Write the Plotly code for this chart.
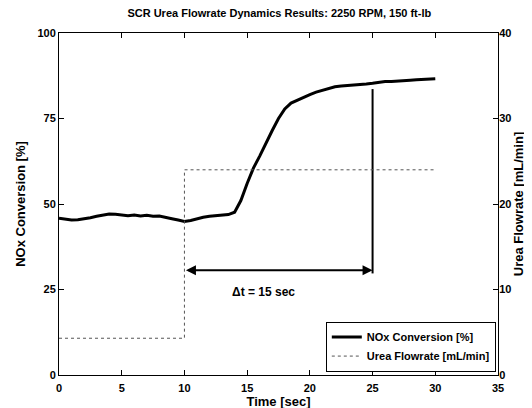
import plotly.graph_objects as go

title_text = "SCR Urea Flowrate Dynamics Results: 2250 RPM, 150 ft-lb"

time_s = [0, 0.5, 1, 1.5, 2, 2.5, 3, 3.5, 4, 4.5, 5, 5.5, 6, 6.5, 7, 7.5, 8, 8.5, 9, 9.5,
          10, 10.5, 11, 11.5, 12, 12.5, 13, 13.5, 14, 14.5, 15, 15.5, 16, 16.5, 17, 17.5,
          18, 18.5, 19, 19.5, 20, 20.5, 21, 21.5, 22, 22.5, 23, 23.5, 24, 24.5, 25, 25.5,
          26, 26.5, 27, 27.5, 28, 28.5, 29, 29.5, 30]
nox_conv = [45.8, 45.5, 45.3, 45.4, 45.6, 46.0, 46.4, 46.8, 47.1, 47.0, 46.7, 46.6, 46.8,
            46.5, 46.7, 46.4, 46.5, 46.2, 45.7, 45.3, 44.9, 45.2, 45.7, 46.1, 46.4, 46.6,
            46.6, 46.9, 47.6, 51.0, 56.0, 60.5, 64.0, 68.0, 71.5, 75.0, 77.8, 79.5, 80.4,
            81.3, 82.0, 82.7, 83.3, 83.8, 84.3, 84.5, 84.6, 84.8, 84.9, 85.1, 85.3, 85.6,
            85.8, 85.8, 86.0, 86.0, 86.2, 86.3, 86.4, 86.5, 86.6]

urea_time = [0, 10, 30]
urea_flow = [4.3, 24.0, 24.0]

x_ticks = [0, 5, 10, 15, 20, 25, 30, 35]
y_ticks = [0, 25, 50, 75, 100]
y2_ticks = [0, 10, 20, 30, 40]

delta_start, delta_end, delta_level = 10, 25, 30.6
marker_line = [29.7, 83.6]

FAM = "Liberation Sans, Arial, sans-serif"
font = dict(family=FAM, size=11, color="black", weight="bold")

fig = go.Figure()
fig.add_trace(go.Scatter(x=time_s, y=nox_conv, mode="lines", name="NOx Conversion [%]",
                         line=dict(color="black", width=3)))
fig.add_trace(go.Scatter(x=urea_time, y=urea_flow, mode="lines", name="Urea Flowrate [mL/min]",
                         line=dict(color="#555555", width=1, dash="dot", shape="hv"),
                         yaxis="y2"))

fig.add_trace(go.Scatter(x=[delta_end, delta_end], y=marker_line, mode="lines",
                         line=dict(color="black", width=2), showlegend=False, hoverinfo="skip"))

fig.add_annotation(x=delta_end, y=delta_level, ax=delta_start, ay=delta_level,
                   xref="x", yref="y", axref="x", ayref="y", text="", showarrow=True,
                   arrowhead=2, arrowside="end+start", arrowwidth=2, arrowsize=1, arrowcolor="black")
fig.add_annotation(x=16.3, y=24.2, xref="x", yref="y", text="Δt = 15 sec", showarrow=False,
                   font=dict(family=FAM, size=12, color="black", weight="bold"))

fig.update_layout(
    width=532, height=408,
    margin=dict(l=50, r=42, t=25, b=30),
    paper_bgcolor="white", plot_bgcolor="white",
    font=font,
    title=dict(text=title_text, x=0.51, xanchor="center", y=0.998, yanchor="top",
               font=dict(family=FAM, size=11, color="black", weight="bold")),
    xaxis=dict(range=[0, 35], tickvals=x_ticks, ticks="inside", ticklen=5, tickcolor="black",
               showline=True, linecolor="black", linewidth=1, mirror="ticks", showgrid=False,
               zeroline=False, ticklabelstandoff=3, title=dict(text="Time [sec]", standoff=1)),
    yaxis=dict(range=[0, 100], tickvals=y_ticks, ticks="inside", ticklen=5, tickcolor="black",
               showline=True, linecolor="black", linewidth=1, showgrid=False, zeroline=False,
               title=dict(text="NOx Conversion [%]", standoff=8)),
    yaxis2=dict(range=[0, 40], tickvals=y2_ticks, ticks="inside", ticklen=5, tickcolor="black",
                overlaying="y", side="right", showline=True, linecolor="black", linewidth=1,
                showgrid=False, zeroline=False, ticklabelstandoff=-2,
                title=dict(text="Urea Flowrate [mL/min]", standoff=2)),
    legend=dict(x=0.995, y=0.01, xanchor="right", yanchor="bottom", bgcolor="white",
                bordercolor="black", borderwidth=1,
                font=dict(family=FAM, size=11, color="black", weight="bold"),
                tracegroupgap=0, itemwidth=30),
    showlegend=True,
)

fig.write_html("out.html")
